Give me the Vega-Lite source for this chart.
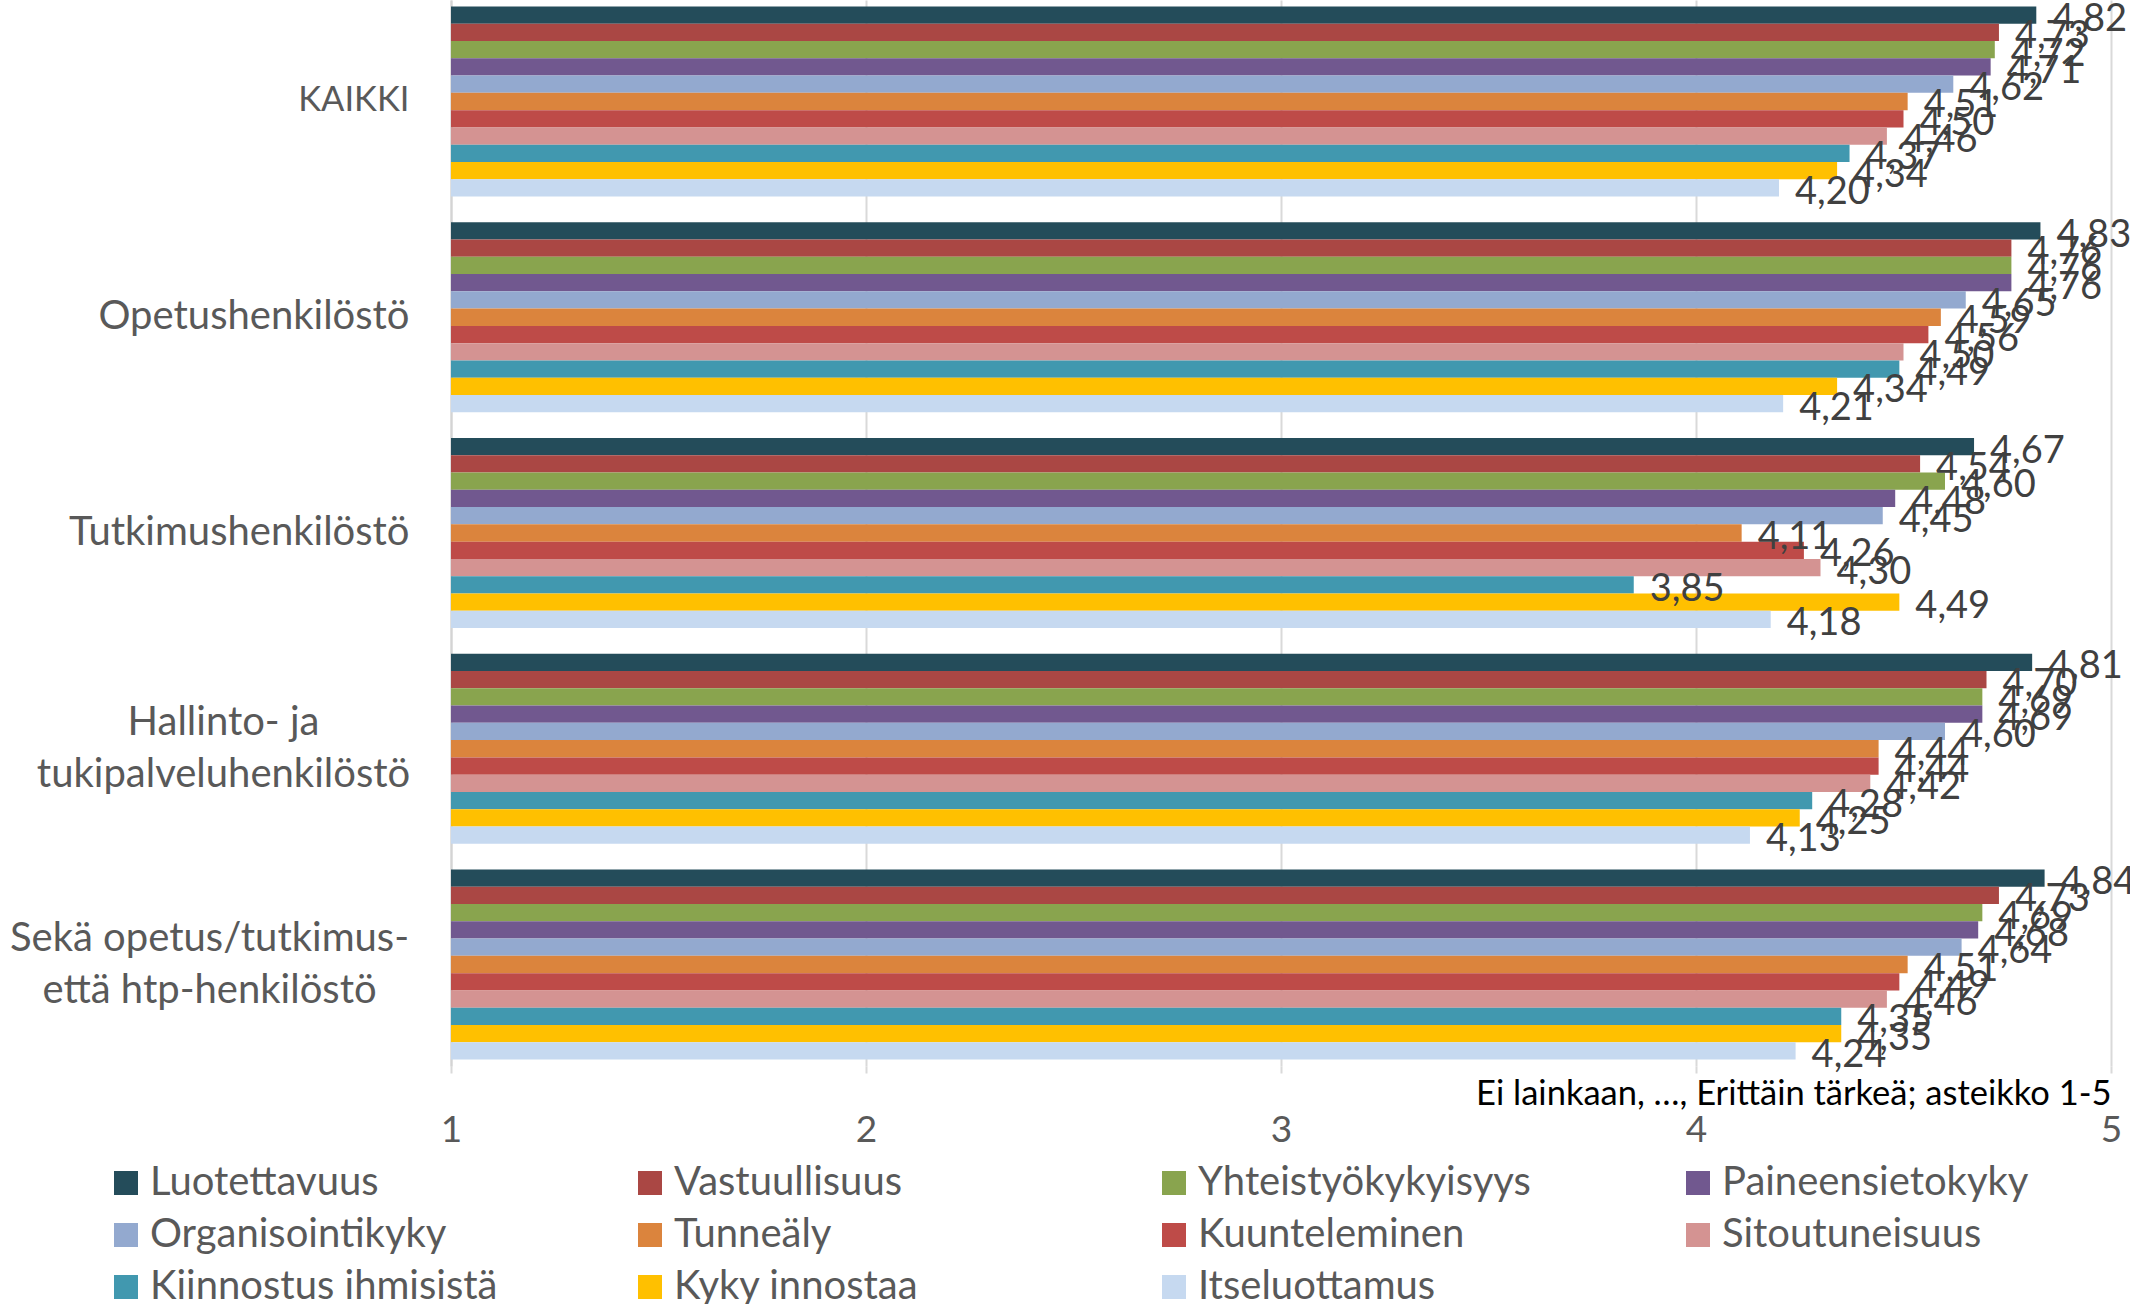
{
  "$schema": "https://vega.github.io/schema/vega-lite/v6.json",
  "width": 1660,
  "height": 1066,
  "autosize": {"type": "none"},
  "padding": {"left": 451, "top": 0, "right": 19, "bottom": 238},
  "background": "white",
  "config": {
    "view": {"stroke": null},
    "font": "Lato",
    "locale": {"number": {"decimal": ",", "thousands": " ", "grouping": [3], "currency": ["", " €"]}},
    "legend": {"padding": 0}
  },
  "data": {
    "values": [
      {"ryhma": "KAIKKI", "ominaisuus": "Luotettavuus", "arvo": 4.82},
      {"ryhma": "KAIKKI", "ominaisuus": "Vastuullisuus", "arvo": 4.73},
      {"ryhma": "KAIKKI", "ominaisuus": "Yhteistyökykyisyys", "arvo": 4.72},
      {"ryhma": "KAIKKI", "ominaisuus": "Paineensietokyky", "arvo": 4.71},
      {"ryhma": "KAIKKI", "ominaisuus": "Organisointikyky", "arvo": 4.62},
      {"ryhma": "KAIKKI", "ominaisuus": "Tunneäly", "arvo": 4.51},
      {"ryhma": "KAIKKI", "ominaisuus": "Kuunteleminen", "arvo": 4.50},
      {"ryhma": "KAIKKI", "ominaisuus": "Sitoutuneisuus", "arvo": 4.46},
      {"ryhma": "KAIKKI", "ominaisuus": "Kiinnostus ihmisistä", "arvo": 4.37},
      {"ryhma": "KAIKKI", "ominaisuus": "Kyky innostaa", "arvo": 4.34},
      {"ryhma": "KAIKKI", "ominaisuus": "Itseluottamus", "arvo": 4.20},
      {"ryhma": "Opetushenkilöstö", "ominaisuus": "Luotettavuus", "arvo": 4.83},
      {"ryhma": "Opetushenkilöstö", "ominaisuus": "Vastuullisuus", "arvo": 4.76},
      {"ryhma": "Opetushenkilöstö", "ominaisuus": "Yhteistyökykyisyys", "arvo": 4.76},
      {"ryhma": "Opetushenkilöstö", "ominaisuus": "Paineensietokyky", "arvo": 4.76},
      {"ryhma": "Opetushenkilöstö", "ominaisuus": "Organisointikyky", "arvo": 4.65},
      {"ryhma": "Opetushenkilöstö", "ominaisuus": "Tunneäly", "arvo": 4.59},
      {"ryhma": "Opetushenkilöstö", "ominaisuus": "Kuunteleminen", "arvo": 4.56},
      {"ryhma": "Opetushenkilöstö", "ominaisuus": "Sitoutuneisuus", "arvo": 4.50},
      {"ryhma": "Opetushenkilöstö", "ominaisuus": "Kiinnostus ihmisistä", "arvo": 4.49},
      {"ryhma": "Opetushenkilöstö", "ominaisuus": "Kyky innostaa", "arvo": 4.34},
      {"ryhma": "Opetushenkilöstö", "ominaisuus": "Itseluottamus", "arvo": 4.21},
      {"ryhma": "Tutkimushenkilöstö", "ominaisuus": "Luotettavuus", "arvo": 4.67},
      {"ryhma": "Tutkimushenkilöstö", "ominaisuus": "Vastuullisuus", "arvo": 4.54},
      {"ryhma": "Tutkimushenkilöstö", "ominaisuus": "Yhteistyökykyisyys", "arvo": 4.60},
      {"ryhma": "Tutkimushenkilöstö", "ominaisuus": "Paineensietokyky", "arvo": 4.48},
      {"ryhma": "Tutkimushenkilöstö", "ominaisuus": "Organisointikyky", "arvo": 4.45},
      {"ryhma": "Tutkimushenkilöstö", "ominaisuus": "Tunneäly", "arvo": 4.11},
      {"ryhma": "Tutkimushenkilöstö", "ominaisuus": "Kuunteleminen", "arvo": 4.26},
      {"ryhma": "Tutkimushenkilöstö", "ominaisuus": "Sitoutuneisuus", "arvo": 4.30},
      {"ryhma": "Tutkimushenkilöstö", "ominaisuus": "Kiinnostus ihmisistä", "arvo": 3.85},
      {"ryhma": "Tutkimushenkilöstö", "ominaisuus": "Kyky innostaa", "arvo": 4.49},
      {"ryhma": "Tutkimushenkilöstö", "ominaisuus": "Itseluottamus", "arvo": 4.18},
      {"ryhma": "Hallinto- ja tukipalveluhenkilöstö", "ominaisuus": "Luotettavuus", "arvo": 4.81},
      {"ryhma": "Hallinto- ja tukipalveluhenkilöstö", "ominaisuus": "Vastuullisuus", "arvo": 4.70},
      {"ryhma": "Hallinto- ja tukipalveluhenkilöstö", "ominaisuus": "Yhteistyökykyisyys", "arvo": 4.69},
      {"ryhma": "Hallinto- ja tukipalveluhenkilöstö", "ominaisuus": "Paineensietokyky", "arvo": 4.69},
      {"ryhma": "Hallinto- ja tukipalveluhenkilöstö", "ominaisuus": "Organisointikyky", "arvo": 4.60},
      {"ryhma": "Hallinto- ja tukipalveluhenkilöstö", "ominaisuus": "Tunneäly", "arvo": 4.44},
      {"ryhma": "Hallinto- ja tukipalveluhenkilöstö", "ominaisuus": "Kuunteleminen", "arvo": 4.44},
      {"ryhma": "Hallinto- ja tukipalveluhenkilöstö", "ominaisuus": "Sitoutuneisuus", "arvo": 4.42},
      {"ryhma": "Hallinto- ja tukipalveluhenkilöstö", "ominaisuus": "Kiinnostus ihmisistä", "arvo": 4.28},
      {"ryhma": "Hallinto- ja tukipalveluhenkilöstö", "ominaisuus": "Kyky innostaa", "arvo": 4.25},
      {"ryhma": "Hallinto- ja tukipalveluhenkilöstö", "ominaisuus": "Itseluottamus", "arvo": 4.13},
      {"ryhma": "Sekä opetus/tutkimus- että htp-henkilöstö", "ominaisuus": "Luotettavuus", "arvo": 4.84},
      {"ryhma": "Sekä opetus/tutkimus- että htp-henkilöstö", "ominaisuus": "Vastuullisuus", "arvo": 4.73},
      {"ryhma": "Sekä opetus/tutkimus- että htp-henkilöstö", "ominaisuus": "Yhteistyökykyisyys", "arvo": 4.69},
      {"ryhma": "Sekä opetus/tutkimus- että htp-henkilöstö", "ominaisuus": "Paineensietokyky", "arvo": 4.68},
      {"ryhma": "Sekä opetus/tutkimus- että htp-henkilöstö", "ominaisuus": "Organisointikyky", "arvo": 4.64},
      {"ryhma": "Sekä opetus/tutkimus- että htp-henkilöstö", "ominaisuus": "Tunneäly", "arvo": 4.51},
      {"ryhma": "Sekä opetus/tutkimus- että htp-henkilöstö", "ominaisuus": "Kuunteleminen", "arvo": 4.49},
      {"ryhma": "Sekä opetus/tutkimus- että htp-henkilöstö", "ominaisuus": "Sitoutuneisuus", "arvo": 4.46},
      {"ryhma": "Sekä opetus/tutkimus- että htp-henkilöstö", "ominaisuus": "Kiinnostus ihmisistä", "arvo": 4.35},
      {"ryhma": "Sekä opetus/tutkimus- että htp-henkilöstö", "ominaisuus": "Kyky innostaa", "arvo": 4.35},
      {"ryhma": "Sekä opetus/tutkimus- että htp-henkilöstö", "ominaisuus": "Itseluottamus", "arvo": 4.24}
    ]
  },
  "encoding": {
    "y": {
      "field": "ryhma",
      "type": "nominal",
      "sort": ["KAIKKI", "Opetushenkilöstö", "Tutkimushenkilöstö", "Hallinto- ja tukipalveluhenkilöstö", "Sekä opetus/tutkimus- että htp-henkilöstö"],
      "scale": {"paddingInner": 0.1193, "paddingOuter": 0.0301},
      "axis": {
        "title": null,
        "domain": true,
        "domainColor": "#d4d4d4",
        "domainWidth": 2,
        "ticks": false,
        "grid": false,
        "labelFont": "Lato",
        "labelFontSize": {"condition": {"test": "datum.value == 'KAIKKI'", "value": 34.5}, "value": 40},
        "labelColor": "#595959",
        "labelLimit": 600,
        "labelLineHeight": 52,
        "labelBaseline": "middle",
        "labelExpr": "datum.value == 'Hallinto- ja tukipalveluhenkilöstö' ? ['Hallinto- ja', 'tukipalveluhenkilöstö'] : datum.value == 'Sekä opetus/tutkimus- että htp-henkilöstö' ? ['Sekä opetus/tutkimus-', 'että htp-henkilöstö'] : datum.label",
        "labelAlign": {"condition": {"test": "datum.value == 'Hallinto- ja tukipalveluhenkilöstö' || datum.value == 'Sekä opetus/tutkimus- että htp-henkilöstö'", "value": "center"}, "value": "right"},
        "labelOffset": {"condition": {"test": "datum.value == 'Hallinto- ja tukipalveluhenkilöstö' || datum.value == 'Sekä opetus/tutkimus- että htp-henkilöstö'", "value": -26}, "value": 0},
        "labelPadding": {"condition": [{"test": "datum.value == 'Hallinto- ja tukipalveluhenkilöstö'", "value": 228}, {"test": "datum.value == 'Sekä opetus/tutkimus- että htp-henkilöstö'", "value": 242}], "value": 42}
      }
    },
    "yOffset": {
      "field": "ominaisuus",
      "type": "nominal",
      "sort": ["Luotettavuus", "Vastuullisuus", "Yhteistyökykyisyys", "Paineensietokyky", "Organisointikyky", "Tunneäly", "Kuunteleminen", "Sitoutuneisuus", "Kiinnostus ihmisistä", "Kyky innostaa", "Itseluottamus"],
      "scale": {"paddingInner": 0, "paddingOuter": 0}
    }
  },
  "layer": [
    {
      "mark": {"type": "bar"},
      "encoding": {
        "x": {
          "field": "arvo",
          "type": "quantitative",
          "scale": {"domain": [1, 5], "nice": false, "zero": false},
          "axis": {
            "values": [1, 2, 3, 4, 5],
            "format": "d",
            "grid": true,
            "gridColor": "#d9d9d9",
            "gridWidth": 2,
            "domain": false,
            "ticks": true,
            "tickSize": 7,
            "tickColor": "#d9d9d9",
            "tickWidth": 2,
            "labelFont": "Lato",
            "labelFontSize": 37,
            "labelColor": "#595959",
            "labelPadding": 39,
            "labelFlush": false,
            "title": "Ei lainkaan, …, Erittäin tärkeä; asteikko 1-5",
            "titleFont": "Lato",
            "titleFontSize": 34.5,
            "titleFontWeight": "normal",
            "titleColor": "#000000",
            "titleAnchor": "end",
            "titleAlign": "right",
            "titleBaseline": "middle",
            "titleX": 1660,
            "titleY": 28
          }
        },
        "x2": {"datum": 1},
        "color": {
          "field": "ominaisuus",
          "type": "nominal",
          "scale": {
            "domain": ["Luotettavuus", "Vastuullisuus", "Yhteistyökykyisyys", "Paineensietokyky", "Organisointikyky", "Tunneäly", "Kuunteleminen", "Sitoutuneisuus", "Kiinnostus ihmisistä", "Kyky innostaa", "Itseluottamus"],
            "range": ["#244c5a", "#aa4744", "#89a44e", "#71588f", "#93a9cf", "#db843d", "#be4b48", "#d49392", "#4198af", "#ffc000", "#c6d9f0"]
          },
          "legend": {
            "orient": "none",
            "legendX": -345,
            "legendY": 1163,
            "direction": "horizontal",
            "columns": 4,
            "title": null,
            "symbolType": "square",
            "symbolSize": 576,
            "symbolStrokeWidth": 0,
            "labelFont": "Lato",
            "labelFontSize": 40,
            "labelColor": "#595959",
            "labelOffset": 4,
            "labelLimit": 600,
            "columnPadding": 132,
            "rowPadding": 12,
            "gridAlign": "all"
          }
        }
      }
    },
    {
      "mark": {"type": "text", "align": "left", "baseline": "middle", "dx": 16, "dy": 5, "fontSize": 38, "color": "#404040", "font": "Lato"},
      "encoding": {
        "x": {"field": "arvo", "type": "quantitative"},
        "text": {"field": "arvo", "type": "quantitative", "format": ".2f"}
      }
    }
  ]
}
